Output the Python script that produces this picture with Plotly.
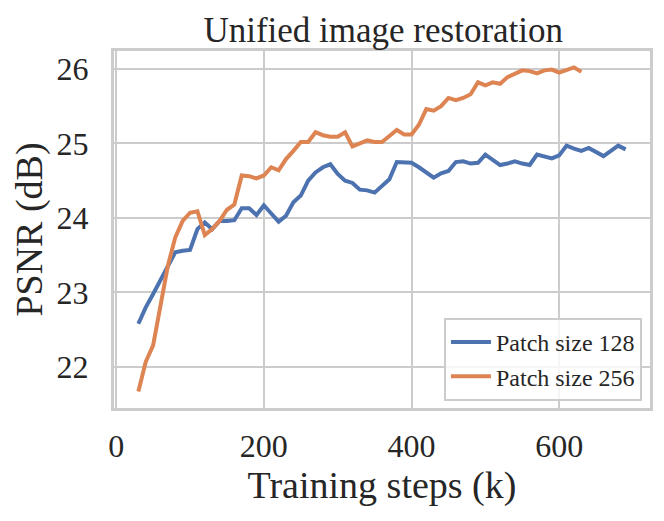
import plotly.graph_objects as go

####################################################
# PSNR vs training steps for two patch sizes

steps_128 = list(range(30, 700, 10))
psnr_128 = [22.58, 22.80, 22.98, 23.16, 23.36, 23.54, 23.56, 23.57, 23.85, 23.94,
            23.85, 23.96, 23.96, 23.97, 24.13, 24.13, 24.04, 24.17, 24.06, 23.95,
            24.03, 24.21, 24.30, 24.50, 24.61, 24.68, 24.72, 24.59, 24.50, 24.47,
            24.38, 24.37, 24.34, 24.43, 24.52, 24.75, 24.75, 24.74, 24.68, 24.61,
            24.54, 24.60, 24.63, 24.75, 24.76, 24.73, 24.74, 24.85, 24.78, 24.71,
            24.73, 24.76, 24.73, 24.71, 24.85, 24.83, 24.80, 24.84, 24.97, 24.93,
            24.90, 24.94, 24.88, 24.83, 24.90, 24.97, 24.92]

steps_256 = list(range(30, 640, 10))
psnr_256 = [21.67, 22.07, 22.29, 22.82, 23.36, 23.74, 23.96, 24.07, 24.09, 23.77,
            23.85, 23.96, 24.11, 24.18, 24.57, 24.56, 24.53, 24.57, 24.68, 24.64,
            24.79, 24.90, 25.02, 25.02, 25.15, 25.11, 25.09, 25.09, 25.15, 24.96,
            25.00, 25.04, 25.02, 25.02, 25.10, 25.18, 25.12, 25.12, 25.25, 25.46,
            25.44, 25.50, 25.61, 25.58, 25.61, 25.66, 25.82, 25.78, 25.82, 25.80,
            25.89, 25.94, 25.98, 25.97, 25.94, 25.98, 25.99, 25.95, 25.99, 26.02,
            25.96]

x_ticks = [0, 200, 400, 600]
y_ticks = [22, 23, 24, 25, 26]

####################################################

fig = go.Figure()
fig.add_trace(go.Scatter(x=steps_128, y=psnr_128, mode="lines", name="Patch size 128",
                         line=dict(color="#4C72B0", width=4)))
fig.add_trace(go.Scatter(x=steps_256, y=psnr_256, mode="lines", name="Patch size 256",
                         line=dict(color="#DD8452", width=4)))

grey = "#cccccc"
# page body has an 8px margin, so the figure is a bit smaller than the window
fig.update_layout(width=656, height=513, plot_bgcolor="white", paper_bgcolor="white",
                  font=dict(family="Liberation Serif", size=32, color="#262626"),
                  title=dict(text="Unified image restoration", x=0.572, xanchor="center",
                             y=0.957, yanchor="middle", font=dict(size=35)),
                  margin=dict(l=106, r=14, t=43, b=113),
                  legend=dict(x=0.985, y=0.02, xanchor="right", yanchor="bottom",
                              bgcolor="rgba(255,255,255,0.8)", bordercolor=grey, borderwidth=2,
                              font=dict(size=24), tracegroupgap=0, itemwidth=40))

fig.update_xaxes(range=[-3, 723], tickvals=x_ticks, showgrid=True, gridcolor=grey, gridwidth=2,
                 zeroline=False, showline=True, linecolor=grey, linewidth=3, mirror=True,
                 ticks="outside", ticklen=8, tickcolor="rgba(0,0,0,0)",
                 title=dict(text="Training steps (k)", standoff=6))
fig.update_yaxes(range=[21.45, 26.24], tickvals=y_ticks, showgrid=True, gridcolor=grey, gridwidth=2,
                 zeroline=False, showline=True, linecolor=grey, linewidth=3, mirror=True,
                 ticks="outside", ticklen=16, tickcolor="rgba(0,0,0,0)",
                 title=dict(text="PSNR (dB)", standoff=6))

fig.write_html("out.html")
